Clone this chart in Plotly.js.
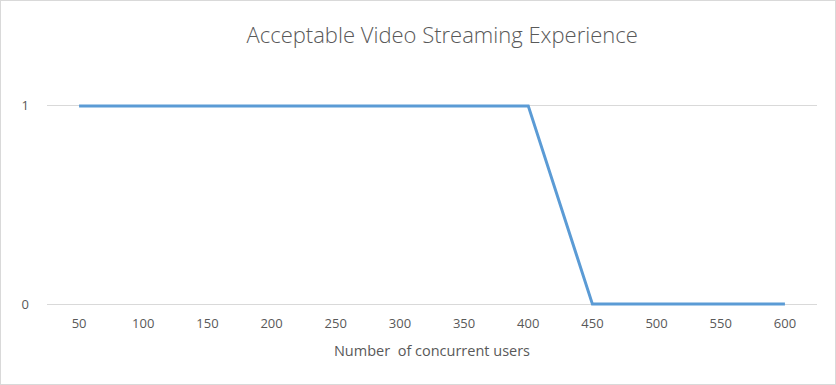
<!DOCTYPE html>
<html>
<head>
<meta charset="utf-8">
<script src="https://cdn.plot.ly/plotly-3.0.1.min.js"></script>
<style>
  html, body { margin: 0; padding: 0; background: #fff; }
  #chart { position: absolute; left: 0; top: 0; width: 834px; height: 383px; border: 1px solid #d9d9d9; }
</style>
</head>
<body>
<div id="chart"></div>
<script>
const users = [50, 100, 150, 200, 250, 300, 350, 400, 450, 500, 550, 600];
const acceptable = [1, 1, 1, 1, 1, 1, 1, 1, 0, 0, 0, 0];
const xTickLabels = ['50', '100', '150', '200', '250', '300', '350', '400', '450', '500', '550', '600'];
const yTicks = [0, 1];

const trace = {
  x: users,
  y: acceptable,
  type: 'scatter',
  mode: 'lines',
  line: { color: '#5B9BD5', width: 3 },
  hoverinfo: 'x+y'
};

const layout = {
  width: 834,
  height: 383,
  margin: { l: 46, r: 18, t: 95, b: 70 },
  paper_bgcolor: '#ffffff',
  plot_bgcolor: '#ffffff',
  showlegend: false,
  font: { family: 'Open Sans, sans-serif', color: '#595959', size: 12 },
  title: {
    text: 'Acceptable Video Streaming Experience',
    font: { family: 'Open Sans, sans-serif', size: 22, color: '#595959', weight: 300 },
    x: 0.529, xanchor: 'center',
    y: 0.91, yanchor: 'middle'
  },
  xaxis: {
    type: 'linear',
    range: [25, 625],
    tickvals: users,
    ticktext: xTickLabels,
    showgrid: false,
    zeroline: false,
    showline: false,
    ticks: '',
    tickfont: { size: 13, color: '#595959' },
    title: {
      text: 'Number  of concurrent users',
      font: { size: 14.5, color: '#595959' },
      standoff: 14
    }
  },
  yaxis: {
    range: [-0.05, 1.05],
    tickvals: yTicks,
    ticktext: ['0', '1'],
    showgrid: true,
    gridcolor: '#d9d9d9',
    gridwidth: 1,
    zeroline: false,
    showline: false,
    ticks: '',
    ticklabelstandoff: 17,
    tickfont: { size: 13, color: '#595959' }
  }
};

Plotly.newPlot('chart', [trace], layout, { displayModeBar: false, staticPlot: true });
</script>
</body>
</html>
